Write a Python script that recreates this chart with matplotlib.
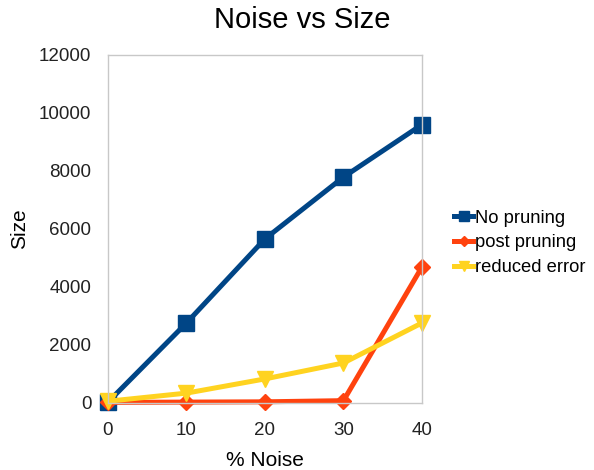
import matplotlib
matplotlib.use('Agg')
import matplotlib.pyplot as plt

plt.rcParams['font.family'] = ['Liberation Sans', 'DejaVu Sans']

noise = [0, 10, 20, 30, 40]
no_pruning = [30, 2760, 5660, 7790, 9600]
post_pruning = [20, 30, 40, 80, 4690]
reduced_error = [60, 340, 830, 1380, 2760]

fig = plt.figure(figsize=(5.94, 4.70), dpi=100)
ax = fig.add_axes([0.1818, 0.1426, 0.5286, 0.7404])

ax.plot(noise, no_pruning, color='#004586', lw=3.6, marker='s', ms=11, label='No pruning')
ax.plot(noise, post_pruning, color='#ff420e', lw=3.6, marker='D', ms=8, label='post pruning')
ax.plot(noise, reduced_error, color='#ffd320', lw=3.6, marker='v', ms=11, label='reduced error')

ax.set_xlim(0, 40)
ax.set_ylim(0, 12000)
ax.set_xticks(noise)
ax.set_yticks(range(0, 12001, 2000))
ax.tick_params(length=0, labelsize=13.5, colors='#222222')
ax.tick_params(axis='y', pad=12)
ax.tick_params(axis='x', pad=14)
for s in ax.spines.values():
    s.set_color('#c8c8c8')
    s.set_linewidth(1)
for line in ax.lines:
    line.set_clip_on(False)

fig.text(0.508, 0.957, 'Noise vs Size', fontsize=21, ha='center', va='center')
ax.set_xlabel('% Noise', fontsize=15, labelpad=8)
ax.set_ylabel('Size', fontsize=15, labelpad=7)

ax.legend(loc='center left', bbox_to_anchor=(1.08, 0.46), frameon=False,
          fontsize=13.2, handlelength=1.0, handletextpad=0.1, labelspacing=0.42,
          borderaxespad=0.0, markerscale=0.6)

fig.savefig('out.png', dpi=100)
